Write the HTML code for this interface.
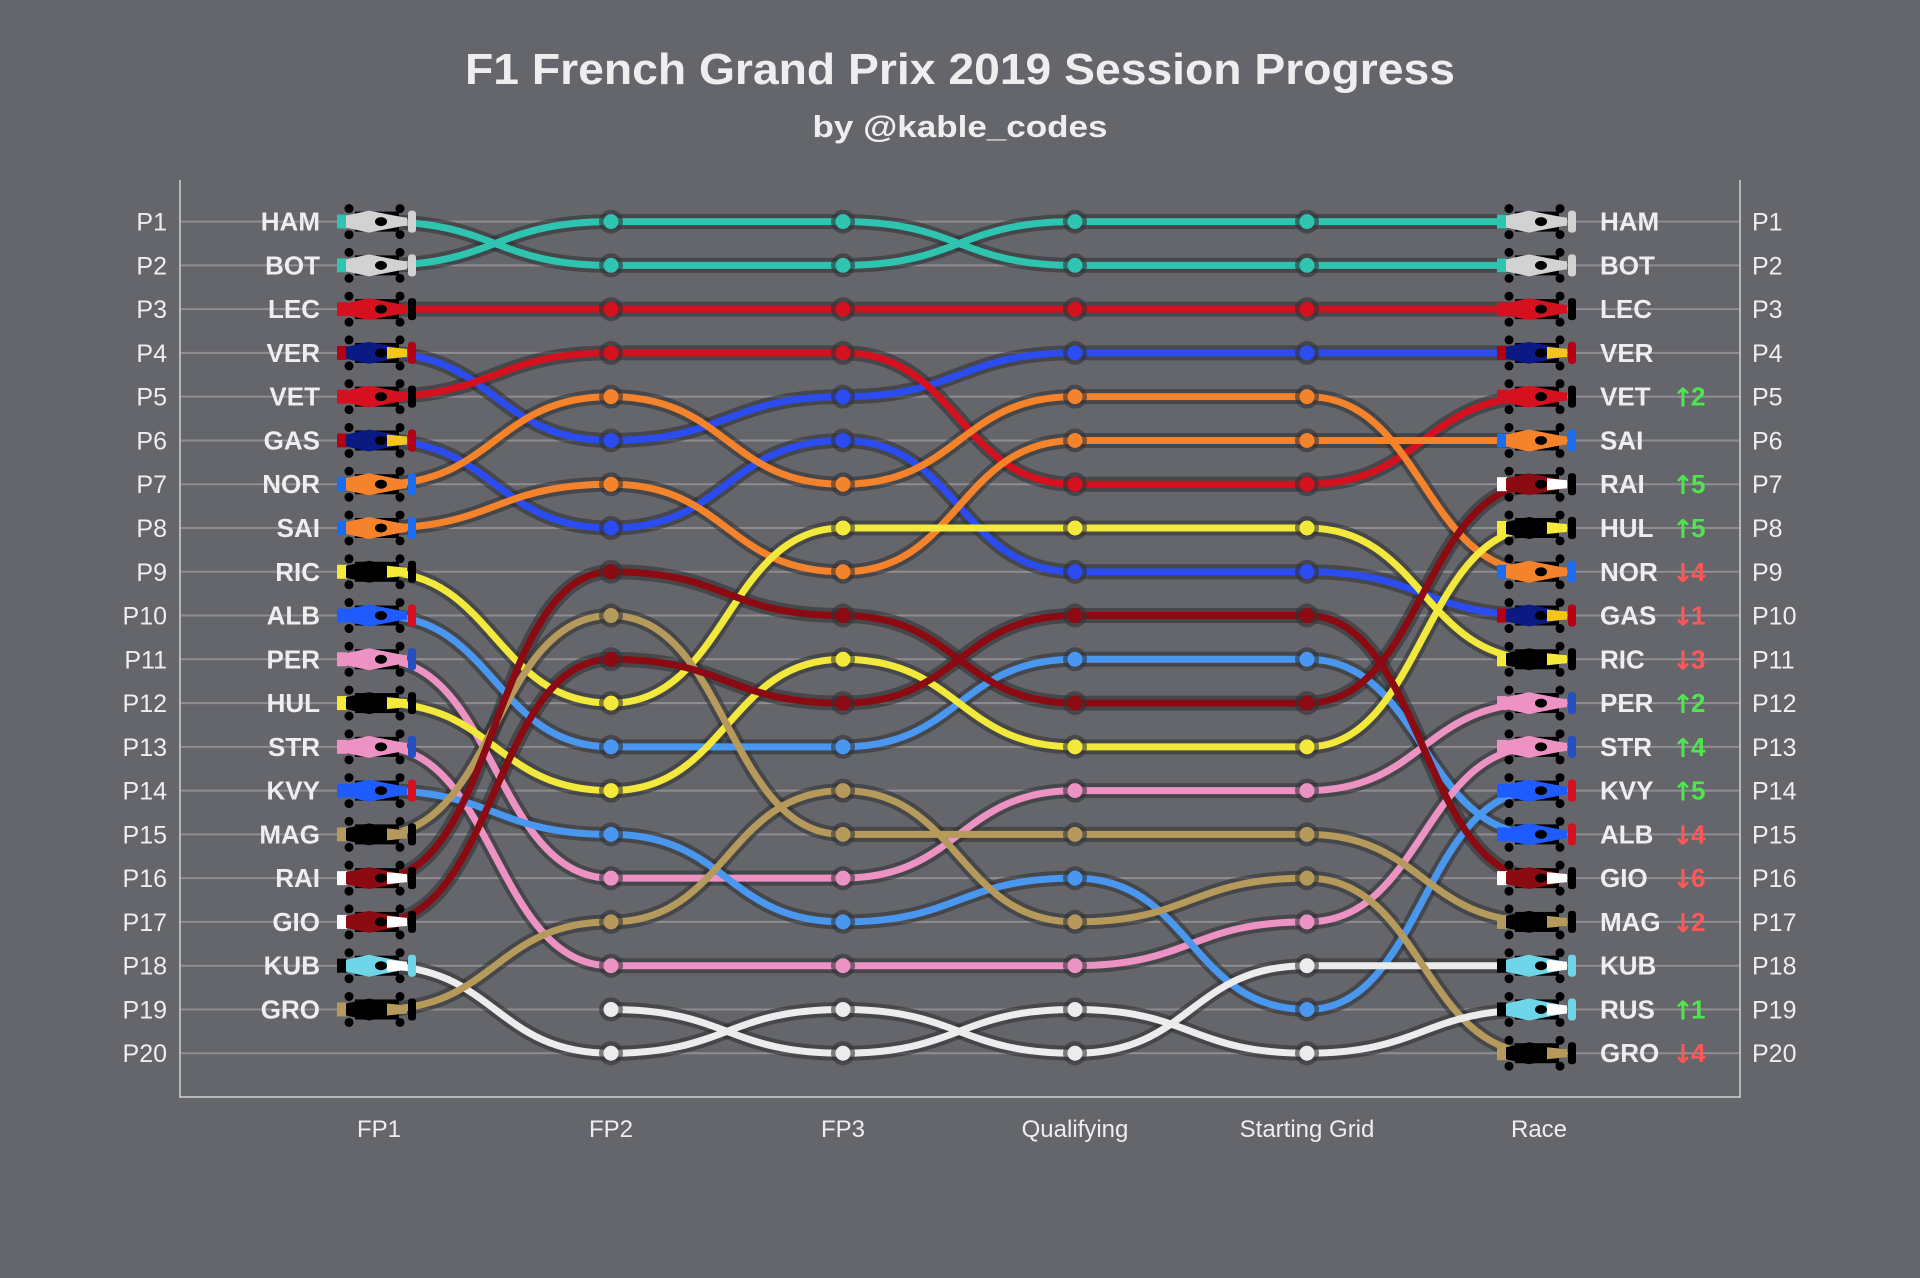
<!DOCTYPE html>
<html><head><meta charset="utf-8"><style>
html,body{margin:0;padding:0;background:#65666b;}
svg{display:block;}
text{font-family:"Liberation Sans","DejaVu Sans",sans-serif;fill:#eeeeee;}
</style></head><body>
<svg id="s" width="1920" height="1278" viewBox="0 0 1920 1278" xmlns="http://www.w3.org/2000/svg">
<rect width="1920" height="1278" fill="#65666b"/>
<text x="960" y="84" text-anchor="middle" font-size="44" font-weight="bold" textLength="990" lengthAdjust="spacingAndGlyphs">F1 French Grand Prix 2019 Session Progress</text>
<text x="960" y="137" text-anchor="middle" font-size="31" font-weight="bold" textLength="295" lengthAdjust="spacingAndGlyphs">by @kable_codes</text>
<g id="g"></g>
</svg>
<script>
const NS="http://www.w3.org/2000/svg",G=document.getElementById('g');
function el(t,a,txt){const e=document.createElementNS(NS,t);for(const k in a)e.setAttribute(k,a[k]);if(txt!==undefined)e.textContent=txt;G.appendChild(e);return e;}
const X=[379,611,843,1075,1307,1539];
const Y=p=>221.6+(p-1)*43.77;
const C={merc:'#2ec4b0',fer:'#d5111f',rb:'#2b4cf0',mcl:'#f5832b',ren:'#f2e93c',tr:'#4a97f0',rp:'#ec93c3',haas:'#b59a5c',alfa:'#8c0a12',wil:'#ececec'};
const D=[
['HAM','merc','merc',[1,2,2,1,1,1]],
['BOT','merc','merc',[2,1,1,2,2,2]],
['LEC','fer','fer',[3,3,3,3,3,3]],
['VER','rb','rb',[4,6,5,4,4,4]],
['VET','fer','fer',[5,4,4,7,7,5]],
['GAS','rb','rb',[6,8,6,9,9,10]],
['NOR','mcl','mcl',[7,5,7,5,5,9]],
['SAI','mcl','mcl',[8,7,9,6,6,6]],
['RIC','ren','ren',[9,12,8,8,8,11]],
['ALB','tr','tr',[10,13,13,11,11,15]],
['PER','rp','rp',[11,16,16,14,14,12]],
['HUL','ren','ren',[12,14,11,13,13,8]],
['STR','rp','rp',[13,18,18,18,17,13]],
['KVY','tr','tr',[14,15,17,16,19,14]],
['MAG','haas','haas',[15,10,15,15,15,17]],
['RAI','alfa','alfa',[16,9,10,12,12,7]],
['GIO','alfa','alfa',[17,11,12,10,10,16]],
['KUB','wil','wil',[18,20,19,20,18,18]],
['GRO','haas','haas',[19,17,14,17,16,20]],
['RUS','wil','wil',[null,19,20,19,20,19]]
];
for(let p=1;p<=20;p++){
 el('line',{x1:180,x2:1740,y1:Y(p),y2:Y(p),stroke:'#8d8d92','stroke-width':2});
 el('text',{x:167,y:Y(p)+9,'text-anchor':'end','font-size':25},'P'+p);
 el('text',{x:1752,y:Y(p)+9,'font-size':25},'P'+p);
}
el('line',{x1:180,x2:180,y1:180,y2:1098,stroke:'#d0d0d0','stroke-width':1.5});
el('line',{x1:1740,x2:1740,y1:180,y2:1098,stroke:'#d0d0d0','stroke-width':1.5});
el('line',{x1:180,x2:1740,y1:1097,y2:1097,stroke:'#d0d0d0','stroke-width':1.5});
['FP1','FP2','FP3','Qualifying','Starting Grid','Race'].forEach((t,i)=>el('text',{x:X[i],y:1137,'text-anchor':'middle','font-size':24},t));
function pathOf(ps){let d='',started=false;for(let i=0;i<6;i++){if(ps[i]==null)continue;const x=X[i],y=Y(ps[i]);if(!started){d+=`M${x},${y}`;started=true;}else{const px=X[i-1],py=Y(ps[i-1]),m=(px+x)/2;d+=` C${m},${py} ${m},${y} ${x},${y}`;}}return d;}
D.forEach(d=>el('path',{d:pathOf(d[3]),fill:'none',stroke:'rgba(45,45,50,0.55)','stroke-width':15}));
D.forEach(d=>{el('path',{d:pathOf(d[3]),fill:'none',stroke:C[d[1]],'stroke-width':7});});
D.forEach(d=>{for(let i=1;i<5;i++){if(d[3][i]==null)continue;el('circle',{cx:X[i],cy:Y(d[3][i]),r:12,fill:'rgba(50,50,55,0.6)'});el('circle',{cx:X[i],cy:Y(d[3][i]),r:7.5,fill:C[d[1]]});}});
const CAR={merc:['#2ec4b0','#d2d2d2','#d2d2d2','#d2d2d2'],fer:['#d5111f','#d5111f','#d5111f','#000'],rb:['#b30012','#0b1a82','#f5c518','#b30012'],
mcl:['#1c6cf2','#f5832b','#f5832b','#1c6cf2'],ren:['#f5ea3a','#000','#f5ea3a','#000'],tr:['#1f5cff','#1f5cff','#1f5cff','#d5111f'],
rp:['#ec93c3','#ec93c3','#ec93c3','#2450c0'],haas:['#b59a5c','#000','#b59a5c','#000'],alfa:['#fff','#8c0a12','#fff','#000'],wil:['#000','#6fd6ea','#fff','#6fd6ea']};
function car(cx,cy,k){const c=CAR[k];
 [[-30,-13],[-30,13],[21,-13],[21,13]].forEach(w=>el('circle',{cx:cx+w[0],cy:cy+w[1],r:4.5,fill:'#000'}));
 el('rect',{x:cx-24,y:cy-10,width:44,height:20,fill:'#000'});
 el('rect',{x:cx-42,y:cy-7,width:10,height:14,fill:c[0]});
 el('polygon',{points:[[-33,-6],[-10,-11],[0,-9],[26,-4],[26,4],[0,9],[-10,11],[-33,6]].map(p=>(cx+p[0])+','+(cy+p[1])).join(' '),fill:c[1]});
 el('polygon',{points:[[8,-6],[28,-4],[28,4],[8,6]].map(p=>(cx+p[0])+','+(cy+p[1])).join(' '),fill:c[2]});
 el('ellipse',{cx:cx+2,cy:cy,rx:6,ry:4.5,fill:'#000'});
 el('rect',{x:cx+29,y:cy-11,width:8,height:22,rx:3,fill:c[3]});
}
D.forEach(d=>{const p=d[3];
 if(p[0]!=null){car(X[0],Y(p[0]),d[2]);el('text',{x:320,y:Y(p[0])+9,'text-anchor':'end','font-size':26,'font-weight':'bold'},d[0]);}
 car(X[5],Y(p[5]),d[2]);
 el('text',{x:1600,y:Y(p[5])+9,'font-size':26,'font-weight':'bold'},d[0]);
 const ch=p[4]-p[5];
 if(ch!==0){const up=ch>0;const col=up?'#4ee64e':'#ff5757';
  el('text',{x:1672,y:Y(p[5])+10,'font-size':26,'font-weight':'bold',style:'fill:'+col+';font-family:"DejaVu Sans",sans-serif'},up?'↑':'↓');
  el('text',{x:1691,y:Y(p[5])+9,'font-size':26,'font-weight':'bold',style:'fill:'+col},String(Math.abs(ch)));}
});
</script>
</body></html>
